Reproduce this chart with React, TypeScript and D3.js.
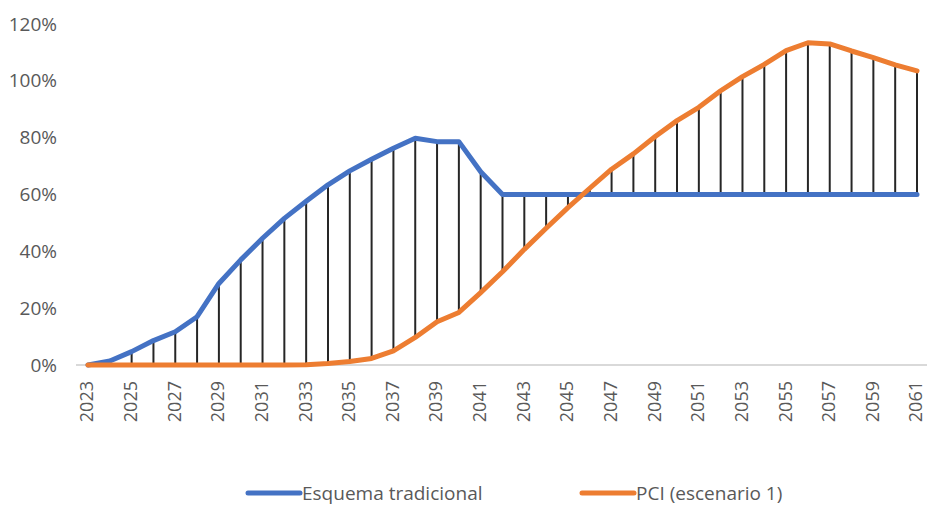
import React from "react";
import * as d3 from "d3";

const years: number[] = d3.range(2023, 2062);
const tradicional: number[] = [
  0, 1.4, 4.7, 8.6, 11.7, 17, 28.7, 37, 44.6, 51.6, 57.6, 63.4, 68.3, 72.4, 76.3, 79.8, 78.6, 78.6, 68, 60,
  60, 60, 60, 60, 60, 60, 60, 60, 60, 60, 60, 60, 60, 60, 60, 60, 60, 60, 60,
];
const pci: number[] = [
  0, 0, 0, 0, 0, 0, 0, 0, 0, 0, 0.1, 0.5, 1.2, 2.3, 5, 9.7, 15.2, 18.5, 25.5, 32.8,
  40.7, 48.1, 55.4, 62.2, 68.9, 74.3, 80.4, 86, 90.7, 96.5, 101.5, 105.8, 110.6, 113.4, 113, 110.5, 108.2, 105.6, 103.5,
];
const yTicks: number[] = [0, 20, 40, 60, 80, 100, 120];
const xLabelYears: number[] = years.filter((y) => (y - 2023) % 2 === 0);
const seriesNames: string[] = ["Esquema tradicional", "PCI (escenario 1)"];
const seriesColors: string[] = ["#4472C4", "#ED7D31"];

const W = 927;
const H = 506;
const FONT = "'Open Sans', sans-serif";

export default function App() {
  const x = d3.scaleLinear().domain([2023, 2061]).range([88, 917]);
  const y = d3.scaleLinear().domain([0, 120]).range([365, 24]);
  const line = d3
    .line<number>()
    .x((_, i) => x(years[i]))
    .y((d) => y(d));
  const series = [tradicional, pci];
  const legendX = [248, 582];
  return (
    <svg
      width={W}
      height={H}
      style={{ position: "absolute", left: 0, top: 0, background: "#fff" }}
      fontFamily={FONT}
    >
      {/* axis line */}
      <line x1={76} x2={927} y1={y(0)} y2={y(0)} stroke="#D9D9D9" strokeWidth={2} />
      {/* y labels */}
      {yTicks.map((t) => (
        <text
          key={t}
          x={57}
          y={y(t)}
          dy="0.35em"
          textAnchor="end"
          fontSize={19}
          fill="#595959"
        >
          {t}%
        </text>
      ))}
      {/* x labels */}
      {xLabelYears.map((yr) => (
        <text
          key={yr}
          transform={`translate(${x(yr)},${381}) rotate(-90)`}
          dy="0.3em"
          textAnchor="end"
          fontSize={18}
          fill="#595959"
        >
          {yr}
        </text>
      ))}
      {/* high-low lines */}
      {years.map((yr, i) => (
        <line
          key={yr}
          x1={x(yr)}
          x2={x(yr)}
          y1={y(Math.max(tradicional[i], pci[i]))}
          y2={y(Math.min(tradicional[i], pci[i]))}
          stroke="#262626"
          strokeWidth={2}
        />
      ))}
      {/* series */}
      {series.map((s, k) => (
        <path
          key={k}
          d={line(s) || ""}
          fill="none"
          stroke={seriesColors[k]}
          strokeWidth={5}
          strokeLinejoin="round"
          strokeLinecap="round"
        />
      ))}
      {/* legend */}
      {seriesNames.map((n, k) => {
        const lx = legendX[k];
        return (
          <g key={n}>
            <line x1={lx} x2={lx + 52} y1={493} y2={493} stroke={seriesColors[k]} strokeWidth={5} strokeLinecap="round" />
            <text x={lx + 54} y={493} dy="0.35em" fontSize={19} fill="#595959">
              {n}
            </text>
          </g>
        );
      })}
    </svg>
  );
}
